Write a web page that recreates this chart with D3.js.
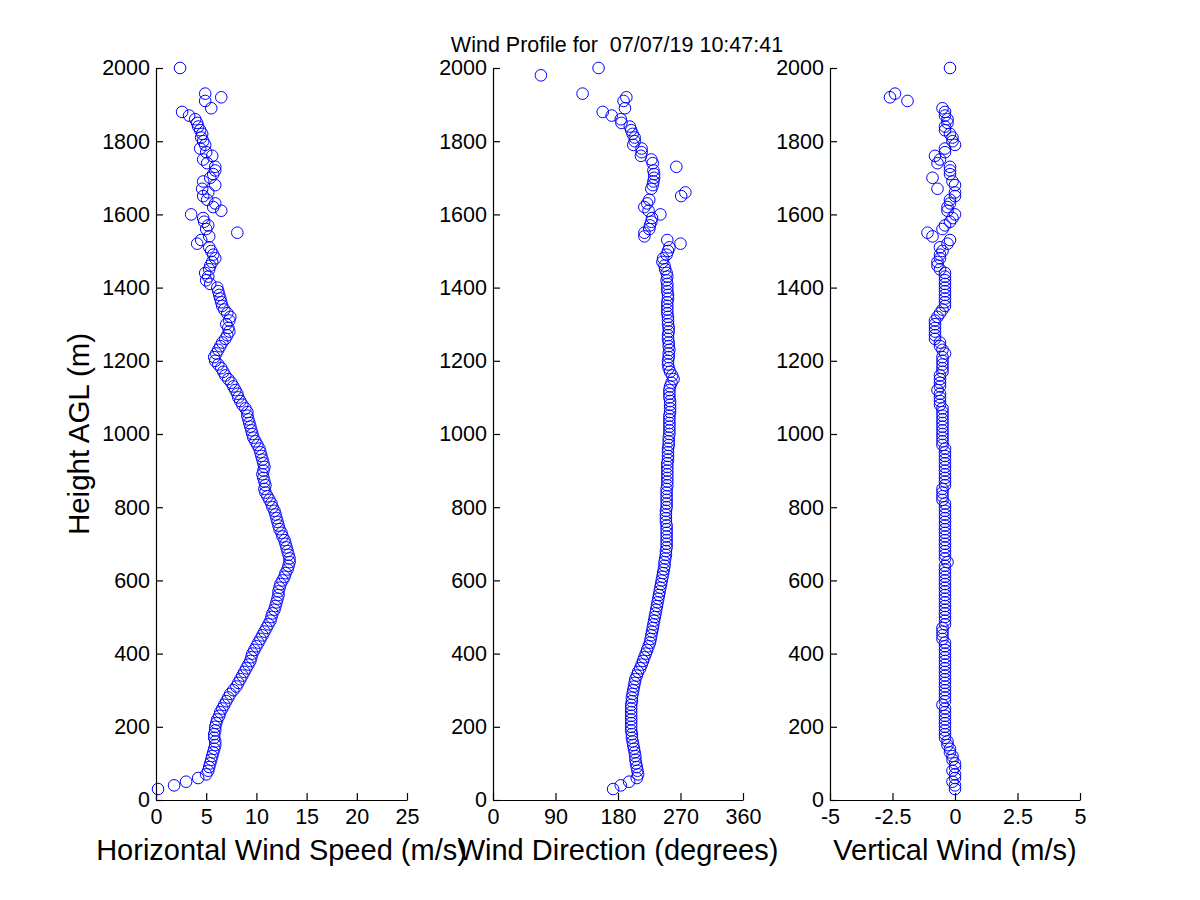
<!DOCTYPE html>
<html>
<head>
<meta charset="utf-8">
<script src="https://cdn.jsdelivr.net/npm/d3@7"></script>
<style>
  html, body { margin: 0; padding: 0; background: #fff; }
  text { font-family: "Liberation Sans", Arial, sans-serif; fill: #000; }
</style>
</head>
<body>
<div id="chart"></div>
<script>
// range gates (m AGL)
const heights = [
  30, 40, 50, 60, 70, 80, 90, 100, 110, 120,
  130, 140, 150, 160, 170, 180, 190, 200, 210, 220,
  230, 240, 250, 260, 270, 280, 290, 300, 310, 320,
  330, 340, 350, 360, 370, 380, 390, 400, 410, 420,
  430, 440, 450, 460, 470, 480, 490, 500, 510, 520,
  530, 540, 550, 560, 570, 580, 590, 600, 610, 620,
  630, 640, 650, 660, 670, 680, 690, 700, 710, 720,
  730, 740, 750, 760, 770, 780, 790, 800, 810, 820,
  830, 840, 850, 860, 870, 880, 890, 900, 910, 920,
  930, 940, 950, 960, 970, 980, 990, 1000, 1010, 1020,
  1030, 1040, 1050, 1060, 1070, 1080, 1090, 1100, 1110, 1120,
  1130, 1140, 1150, 1160, 1170, 1180, 1190, 1200, 1210, 1220,
  1230, 1240, 1250, 1260, 1270, 1280, 1290, 1300, 1310, 1320,
  1330, 1340, 1350, 1360, 1370, 1380, 1390, 1400, 1410, 1420,
  1430, 1440, 1450, 1460, 1470, 1480, 1490, 1500, 1510, 1520,
  1530, 1540, 1550, 1560, 1570, 1580, 1590, 1600, 1610, 1620,
  1630, 1640, 1650, 1660, 1670, 1680, 1690, 1700, 1710, 1720,
  1730, 1740, 1750, 1760, 1770, 1780, 1790, 1800, 1810, 1820,
  1830, 1840, 1850, 1860, 1870, 1880, 1890, 1900, 1910, 1920,
  1930, 1940, 1950, 1960, 1970, 1980, 1990, 2000
];

// horizontal wind speed (m/s)
const speed = [
  0.2, 1.8, 3.0, 4.2, 5.0, 5.2, 5.3, 5.4, 5.5, 5.6,
  5.7, 5.8, 5.9, 5.9, 5.8, 5.8, 5.9, 5.9, 6.0, 6.1,
  6.3, 6.4, 6.6, 6.8, 7.0, 7.2, 7.4, 7.7, 8.0, 8.2,
  8.4, 8.6, 8.8, 9.0, 9.2, 9.4, 9.5, 9.6, 9.8, 10.0,
  10.2, 10.4, 10.6, 10.8, 11.0, 11.2, 11.4, 11.5, 11.6, 11.8,
  11.9, 12.0, 12.1, 12.2, 12.2, 12.3, 12.4, 12.6, 12.8, 12.9,
  13.1, 13.2, 13.3, 13.3, 13.2, 13.1, 13.0, 12.9, 12.8, 12.6,
  12.5, 12.3, 12.2, 12.1, 12.0, 11.9, 11.8, 11.6, 11.5, 11.3,
  11.1, 10.9, 10.8, 10.9, 10.8, 10.7, 10.6, 10.7, 10.8, 10.7,
  10.6, 10.5, 10.4, 10.3, 10.1, 9.9, 9.7, 9.6, 9.5, 9.4,
  9.3, 9.2, 9.1, 9.1, 8.9, 8.6, 8.4, 8.2, 8.1, 7.9,
  7.7, 7.5, 7.2, 6.9, 6.7, 6.5, 6.2, 5.9, 5.8, 6.0,
  6.2, 6.4, 6.6, 6.9, 7.1, 7.3, 7.2, 7.0, 7.3, 7.4,
  7.1, 6.8, 6.6, 6.5, 6.4, 6.3, 6.2, 6.1, 5.4, 5.0,
  5.2, 4.9, 5.3, 5.4, 5.6, 5.9, 5.7, 5.5, 5.3, 4.1,
  4.5, 5.3, 8.1, 5.0, 5.2, 4.8, 4.7, 3.5, 6.5, 5.7,
  5.9, 5.1, 4.7, 5.2, 4.6, 5.9, 4.7, 5.4, 5.7, 5.9,
  5.9, 5.1, 4.7, 5.6, 5.0, 4.4, 4.9, 4.7, 4.5, 4.6,
  4.4, 4.2, 4.1, 3.9, 3.3, 2.6, 5.5, null, 4.9, 6.5,
  4.9, null, null, null, null, null, null, 2.4
];

// wind direction (degrees)
const direction = [
  173, 184, 196, 207, 209, 208, 207, 206, 205, 205,
  204, 203, 202, 201, 200, 200, 199, 199, 199, 199,
  199, 199, 199, 199, 200, 200, 201, 202, 203, 204,
  205, 207, 209, 212, 214, 216, 218, 220, 222, 224,
  226, 227, 228, 229, 230, 231, 232, 233, 234, 235,
  236, 237, 238, 239, 240, 241, 242, 243, 244, 245,
  246, 247, 247, 248, 249, 249, 250, 250, 250, 250,
  250, 250, 250, 249, 249, 249, 249, 250, 250, 250,
  250, 250, 250, 251, 251, 251, 251, 251, 251, 251,
  252, 252, 252, 252, 253, 253, 253, 254, 254, 254,
  254, 254, 254, 255, 255, 255, 255, 254, 254, 254,
  255, 257, 260, 258, 255, 253, 252, 252, 253, 253,
  254, 253, 253, 252, 252, 253, 253, 252, 252, 252,
  251, 251, 251, 251, 252, 252, 251, 251, 251, 250,
  251, 250, 248, 247, 244, 245, 250, 252, 254, 270,
  251, 218, 218, 225, 226, 228, 229, 241, 224, 218,
  222, 225, 271, 277, 228, 230, 231, 232, 232, 231,
  264, 230, 228, 213, 214, 214, 202, 204, 204, 201,
  199, 197, 185, 184, 171, 158, 190, null, 188, 192,
  129, null, null, null, null, 69, null, 152
];

// vertical wind (m/s)
const vertical = [
  0.0, 0.0, -0.1, 0.0, 0.0, -0.1, 0.0, 0.0, -0.1, -0.1,
  -0.2, -0.2, -0.3, -0.3, -0.4, -0.4, -0.4, -0.4, -0.4, -0.4,
  -0.4, -0.4, -0.4, -0.5, -0.4, -0.4, -0.4, -0.4, -0.4, -0.4,
  -0.4, -0.4, -0.4, -0.4, -0.4, -0.4, -0.4, -0.4, -0.4, -0.4,
  -0.4, -0.5, -0.5, -0.5, -0.5, -0.4, -0.4, -0.4, -0.4, -0.4,
  -0.4, -0.4, -0.4, -0.4, -0.4, -0.4, -0.4, -0.4, -0.4, -0.4,
  -0.4, -0.4, -0.3, -0.4, -0.4, -0.4, -0.4, -0.4, -0.4, -0.4,
  -0.4, -0.4, -0.4, -0.4, -0.4, -0.4, -0.4, -0.4, -0.4, -0.5,
  -0.5, -0.5, -0.5, -0.4, -0.4, -0.4, -0.4, -0.4, -0.4, -0.4,
  -0.4, -0.4, -0.4, -0.4, -0.5, -0.5, -0.5, -0.5, -0.5, -0.5,
  -0.5, -0.5, -0.5, -0.5, -0.5, -0.6, -0.6, -0.6, -0.6, -0.7,
  -0.6, -0.6, -0.6, -0.6, -0.5, -0.5, -0.5, -0.5, -0.5, -0.4,
  -0.5, -0.6, -0.6, -0.8, -0.8, -0.8, -0.8, -0.8, -0.8, -0.7,
  -0.6, -0.5, -0.4, -0.4, -0.4, -0.4, -0.4, -0.4, -0.4, -0.4,
  -0.4, -0.4, -0.6, -0.7, -0.7, -0.6, -0.6, -0.5, -0.6, -0.3,
  -0.2, -0.9, -1.1, -0.5, -0.4, -0.2, -0.1, 0.0, -0.3, -0.3,
  -0.2, -0.2, 0.0, 0.0, -0.7, 0.0, -0.1, -0.9, -0.2, -0.2,
  -0.2, -0.7, -0.6, -0.8, -0.4, -0.4, 0.0, -0.1, -0.1, -0.2,
  -0.4, -0.4, -0.3, -0.3, -0.4, -0.4, -0.5, null, -1.9, -2.6,
  -2.4, null, null, null, null, null, null, -0.2
];

const heightTicks = [0, 200, 400, 600, 800, 1000, 1200, 1400, 1600, 1800, 2000];
const speedTicks = [0, 5, 10, 15, 20, 25];
const directionTicks = [0, 90, 180, 270, 360];
const verticalTicks = [-5, -2.5, 0, 2.5, 5];

const title = 'Wind Profile for  07/07/19 10:47:41';

const width = 1200, height = 900;
const svg = d3.select('#chart').append('svg')
  .attr('width', width)
  .attr('height', height);

const y = d3.scaleLinear().domain([0, 2000]).range([800, 68]);

const panels = [
  { values: speed, domain: [0, 25], range: [156, 407], ticks: speedTicks, label: 'Horizontal Wind Speed (m/s)' },
  { values: direction, domain: [0, 360], range: [493, 743], ticks: directionTicks, label: 'Wind Direction (degrees)' },
  { values: vertical, domain: [-5, 5], range: [830, 1080], ticks: verticalTicks, label: 'Vertical Wind (m/s)' }
];

panels.forEach(p => {
  const x = d3.scaleLinear().domain(p.domain).range(p.range);
  const pts = heights.map((h, i) => ({ h, v: p.values[i] })).filter(d => d.v != null);

  svg.append('g')
    .selectAll('circle')
    .data(pts)
    .join('circle')
    .attr('cx', d => x(d.v))
    .attr('cy', d => y(d.h))
    .attr('r', 5.8)
    .attr('fill', 'none')
    .attr('stroke', '#0000ff')
    .attr('stroke-width', 1);

  const gx = svg.append('g')
    .attr('transform', `translate(0,${y(0)})`)
    .call(d3.axisBottom(x).tickValues(p.ticks).tickFormat(d => d)
      .tickSizeInner(-7).tickSizeOuter(0).tickPadding(9));

  const gy = svg.append('g')
    .attr('transform', `translate(${p.range[0]},0)`)
    .call(d3.axisLeft(y).tickValues(heightTicks).tickFormat(d => d)
      .tickSizeInner(-7).tickSizeOuter(0).tickPadding(6));

  [gx, gy].forEach(g => {
    g.selectAll('path, line').attr('stroke', '#000').attr('stroke-width', 1.2);
    g.selectAll('text')
      .style('font-family', '"Liberation Sans", Arial, sans-serif')
      .style('font-size', '21.5px')
      .attr('fill', '#000');
  });

  svg.append('text')
    .attr('x', (p.range[0] + p.range[1]) / 2)
    .attr('y', 860)
    .attr('text-anchor', 'middle')
    .style('font-size', '29px')
    .text(p.label);
});

svg.append('text')
  .attr('transform', `translate(89,${y(1000)}) rotate(-90)`)
  .attr('text-anchor', 'middle')
  .style('font-size', '29.5px')
  .text('Height AGL (m)');

svg.append('text')
  .attr('x', 617)
  .attr('y', 52)
  .attr('text-anchor', 'middle')
  .style('font-size', '21.5px')
  .style('white-space', 'pre')
  .text(title);
</script>
</body>
</html>
